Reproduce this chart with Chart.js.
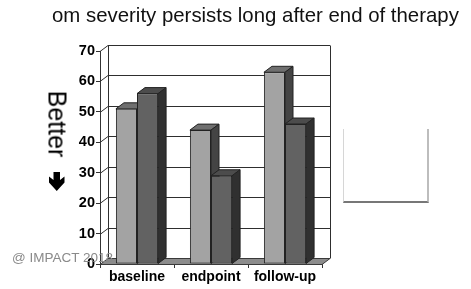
<!DOCTYPE html>
<html>
<head>
<meta charset="utf-8">
<script src="https://cdn.jsdelivr.net/npm/chart.js@4"></script>
<style>
  body { margin: 0; background: #fff; }
  .wrap { position: relative; width: 471px; height: 289px; overflow: hidden; font-family: "Liberation Sans", Arial, sans-serif; }
  canvas { position: absolute; left: 0; top: 0; }
  .title { position: absolute; left: 52px; top: 5px; font-size: 20.4px; line-height: 20px; color: #111; white-space: nowrap; }
  .better { position: absolute; left: 57px; top: 124px; font-size: 25px; line-height: 25px; color: #000;
            transform: translate(-50%, -50%) rotate(90deg); white-space: nowrap; }
  .mark { position: absolute; left: 12px; top: 251px; font-size: 13.5px; line-height: 13.5px; color: #8a8a8a; white-space: nowrap; }
  .legend { position: absolute; left: 343px; top: 129px; width: 83px; height: 72px;
            border-left: 1px solid #d6d6d6; border-right: 2px solid #bdbdbd; border-bottom: 2px solid #777; }
</style>
</head>
<body>
<div class="wrap">
  <canvas id="chart" width="471" height="289"></canvas>
  <div class="title">om severity persists long after end of therapy</div>
  <div class="better">Better</div>
  <div class="legend"></div>
  <div class="mark">@ IMPACT 2018</div>
</div>
<script>
// Data
const categories = ["baseline", "endpoint", "follow-up"];
const lightValues = [51, 44, 63];
const darkValues = [56, 29, 46];
const yMin = 0;
const yMax = 70;
const yStep = 10;

// 3D look: how far the back faces are pushed
const depthX = 8;
const depthY = -6;

const faceColors = [
  { front: "#a3a3a3", top: "#6f6f6f", side: "#444444" },
  { front: "#626262", top: "#4c4c4c", side: "#303030" }
];

function poly(ctx, pts, fill, stroke) {
  ctx.beginPath();
  ctx.moveTo(pts[0][0], pts[0][1]);
  for (let i = 1; i < pts.length; i++) ctx.lineTo(pts[i][0], pts[i][1]);
  ctx.closePath();
  ctx.fillStyle = fill;
  ctx.fill();
  ctx.strokeStyle = stroke;
  ctx.lineWidth = 1;
  ctx.stroke();
}

// Back wall, floor and bar depth faces, drawn before the front faces
const fake3d = {
  id: "fake3d",
  beforeDatasetsDraw(chart) {
    const { ctx, chartArea: a, scales } = chart;
    const y = scales.y;
    ctx.save();
    ctx.strokeStyle = "#2e2e2e";
    ctx.lineWidth = 1;

    // wall gridlines with the little diagonal on the side wall
    y.ticks.forEach(t => {
      if (t.value === yMin) return;
      const py = Math.round(y.getPixelForValue(t.value)) + 0.5;
      ctx.beginPath();
      ctx.moveTo(a.left, py);
      ctx.lineTo(a.left + depthX, py + depthY);
      ctx.lineTo(a.right + depthX, py + depthY);
      ctx.stroke();
    });

    // wall edges
    const top = Math.round(y.getPixelForValue(yMax)) + 0.5;
    const bot = Math.round(y.getPixelForValue(yMin)) + 0.5;
    ctx.beginPath();
    ctx.moveTo(a.left + depthX + 0.5, bot + depthY);
    ctx.lineTo(a.left + depthX + 0.5, top + depthY);
    ctx.moveTo(a.right + depthX + 0.5, bot + depthY);
    ctx.lineTo(a.right + depthX + 0.5, top + depthY);
    ctx.stroke();

    // floor
    poly(ctx, [
      [a.left, bot], [a.right, bot],
      [a.right + depthX, bot + depthY], [a.left + depthX, bot + depthY]
    ], "#8c8c8c", "#3a3a3a");

    // top and side faces of every bar
    chart.data.datasets.forEach((ds, di) => {
      const meta = chart.getDatasetMeta(di);
      const c = faceColors[di];
      meta.data.forEach(bar => {
        const p = bar.getProps(["x", "y", "base", "width"], true);
        const l = p.x - p.width / 2;
        const r = p.x + p.width / 2;
        poly(ctx, [[l, p.y], [l + depthX, p.y + depthY], [r + depthX, p.y + depthY], [r, p.y]], c.top, "#222");
        poly(ctx, [[r, p.y], [r + depthX, p.y + depthY], [r + depthX, p.base + depthY], [r, p.base]], c.side, "#222");
      });
    });
    ctx.restore();
  },
  afterDraw(chart) {
    // the thick down arrow under "Better"
    const ctx = chart.ctx;
    ctx.save();
    ctx.fillStyle = "#000";
    ctx.beginPath();
    ctx.moveTo(53.5, 172);
    ctx.lineTo(60, 172);
    ctx.lineTo(60, 180);
    ctx.lineTo(64.5, 176.5);
    ctx.lineTo(64.5, 182.5);
    ctx.lineTo(56.75, 191);
    ctx.lineTo(49, 182.5);
    ctx.lineTo(49, 176.5);
    ctx.lineTo(53.5, 180);
    ctx.closePath();
    ctx.fill();
    ctx.restore();
  }
};

new Chart(document.getElementById("chart"), {
  type: "bar",
  data: {
    labels: categories,
    datasets: [
      {
        label: "light",
        data: lightValues,
        backgroundColor: faceColors[0].front,
        borderColor: "#222",
        borderWidth: 1,
        borderSkipped: false
      },
      {
        label: "dark",
        data: darkValues,
        backgroundColor: faceColors[1].front,
        borderColor: "#222",
        borderWidth: 1,
        borderSkipped: false
      }
    ]
  },
  options: {
    responsive: false,
    animation: false,
    devicePixelRatio: 1,
    layout: { padding: { top: 51, right: 149, left: 0, bottom: 0 } },
    datasets: { bar: { barPercentage: 1, categoryPercentage: 0.57 } },
    plugins: {
      legend: { display: false },
      tooltip: { enabled: false }
    },
    scales: {
      x: {
        afterFit: s => { s.height = 25; },
        grid: { drawOnChartArea: false, tickLength: 4, color: "#333" },
        border: { display: true, color: "#333" },
        ticks: {
          color: "#000",
          padding: 1,
          font: { family: "'Liberation Sans', Arial, sans-serif", size: 14, weight: "bold" }
        }
      },
      y: {
        min: yMin,
        max: yMax,
        afterFit: s => { s.width = 100; },
        grid: { drawOnChartArea: false, tickLength: 4, color: "#333" },
        border: { display: true, color: "#333" },
        ticks: {
          stepSize: yStep,
          color: "#000",
          padding: 1,
          font: { family: "'Liberation Sans', Arial, sans-serif", size: 14.5, weight: "bold" }
        }
      }
    }
  },
  plugins: [fake3d]
});
</script>
</body>
</html>
